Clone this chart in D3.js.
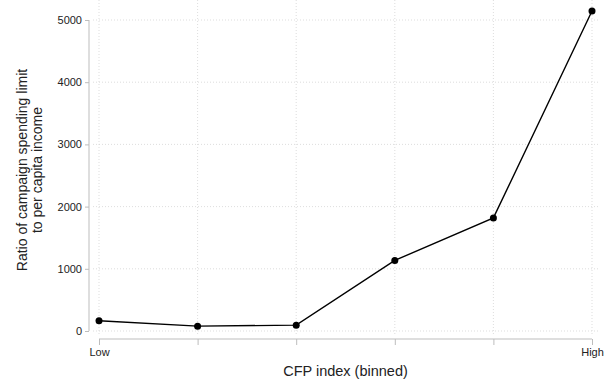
<!DOCTYPE html>
<html>
<head>
<meta charset="utf-8">
<script src="https://cdn.jsdelivr.net/npm/d3@7"></script>
<style>
  html, body { margin: 0; padding: 0; background: #fff; }
  svg { display: block; font-family: "Liberation Sans", Arial, sans-serif; }
</style>
</head>
<body>
<svg id="chart" width="604" height="385"></svg>
<script>
// Binned CFP index categories and the mean spending-limit ratio for each bin
const bins = ["1", "2", "3", "4", "5", "6"];
const binLabels = ["Low", "", "", "", "", "High"];
const ratio = [165, 78, 94, 1135, 1818, 5145];
const yTicks = [0, 1000, 2000, 3000, 4000, 5000];

const svg = d3.select("#chart");

const x = d3.scalePoint().domain(bins).range([99, 592]);
const y = d3.scaleLinear().domain([0, 5000]).range([331, 20]);

const grid = "#d4d4d4";

// Dotted grid
svg.append("g").selectAll("line").data(yTicks).join("line")
  .attr("x1", 93).attr("x2", 600)
  .attr("y1", d => y(d)).attr("y2", d => y(d))
  .attr("stroke", grid).attr("stroke-width", 0.8).attr("stroke-dasharray", "1,2");
svg.append("g").selectAll("line").data(bins).join("line")
  .attr("x1", d => x(d)).attr("x2", d => x(d))
  .attr("y1", 0).attr("y2", 336)
  .attr("stroke", grid).attr("stroke-width", 0.8).attr("stroke-dasharray", "1,2");

// Y axis
const yAxis = svg.append("g").attr("transform", "translate(89,0)")
  .call(d3.axisLeft(y).tickValues(yTicks).tickSize(4).tickPadding(3).tickFormat(d3.format("d")));
yAxis.select(".domain").attr("stroke", "#bdbdbd").attr("d", `M0,${y(0)}V${y(5000)}`);
yAxis.selectAll(".tick line").attr("stroke", "#bdbdbd");
yAxis.selectAll(".tick text").attr("font-size", 11).attr("fill", "#222")
  .attr("font-family", "Liberation Sans, Arial, sans-serif");

// X axis
const xAxis = svg.append("g").attr("transform", "translate(0,339)")
  .call(d3.axisBottom(x).tickSize(6).tickPadding(3).tickFormat((d, i) => binLabels[i]));
xAxis.select(".domain").attr("stroke", "#bdbdbd").attr("d", `M${x(bins[0])},0H${x(bins[bins.length - 1])}`);
xAxis.selectAll(".tick line").attr("stroke", "#bdbdbd");
xAxis.selectAll(".tick text").attr("font-size", 11).attr("fill", "#222")
  .attr("font-family", "Liberation Sans, Arial, sans-serif");

// Axis titles
svg.append("text")
  .attr("x", (x(bins[0]) + x(bins[bins.length - 1])) / 2).attr("y", 376)
  .attr("text-anchor", "middle").attr("font-size", 14.5).attr("fill", "#222")
  .text("CFP index (binned)");

const yTitle = svg.append("text")
  .attr("transform", "translate(0,170) rotate(-90)")
  .attr("text-anchor", "middle").attr("font-size", 14).attr("fill", "#222");
yTitle.append("tspan").attr("x", 0).attr("y", 27).text("Ratio of campaign spending limit");
yTitle.append("tspan").attr("x", 0).attr("y", 41.5).text("to per capita income");

// Line and points
const pts = bins.map((b, i) => ({ b, v: ratio[i] }));
svg.append("path").datum(pts)
  .attr("fill", "none").attr("stroke", "#000").attr("stroke-width", 1.4)
  .attr("d", d3.line().x(d => x(d.b)).y(d => y(d.v)));
svg.append("g").selectAll("circle").data(pts).join("circle")
  .attr("cx", d => x(d.b)).attr("cy", d => y(d.v)).attr("r", 3.5).attr("fill", "#000");
</script>
</body>
</html>
